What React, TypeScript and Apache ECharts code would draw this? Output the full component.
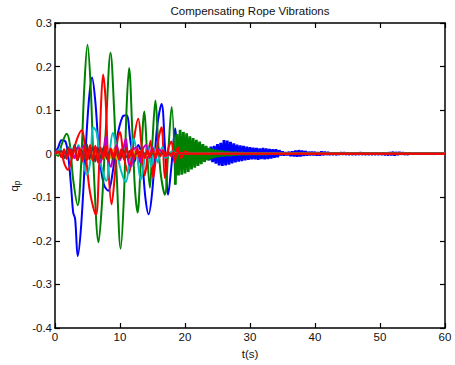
import React, { useEffect, useRef } from "react";
import * as echarts from "echarts";

const X_TICKS = [0, 10, 20, 30, 40, 50, 60];
const Y_TICKS = [-0.4, -0.3, -0.2, -0.1, 0, 0.1, 0.2, 0.3];
const TAIL_STEP = 0.25;

const blueMain: number[][] = [
  [0, 0], [0.5, 0.015], [1.0, 0.031], [1.6, 0.028], [2.0, 0.0], [2.5, -0.08], [2.8, -0.135], [3.1, -0.15],
  [3.5, -0.235], [4.0, -0.17], [4.6, -0.02], [5.2, 0.12], [5.7, 0.175], [6.2, 0.12], [6.8, 0.0], [7.5, -0.07],
  [8.2, -0.085], [8.9, -0.04], [9.6, 0.04], [10.4, 0.085], [11.0, 0.088], [11.6, 0.03], [12.2, -0.02],
  [12.8, 0.02], [13.3, 0.0], [13.9, -0.1], [14.4, -0.139], [15.0, -0.08], [15.7, 0.06], [16.4, 0.114],
  [16.9, 0.02], [17.4, -0.094], [17.9, -0.03], [18.5, 0.058], [19.0, -0.025], [19.5, 0.025],
];
const blueTailStart = 19.75;
const blueTail = [
  -0.02, 0.022, -0.018, 0.02, -0.016, 0.018, -0.015, 0.016, -0.014, 0.015, -0.012, 0.013,
  -0.012, 0.012, -0.013, 0.012, -0.015, 0.016, -0.019, 0.018, -0.023, 0.022, -0.027, 0.025,
  -0.028, 0.031, -0.027, 0.03, -0.025, 0.027, -0.022, 0.024, -0.02, 0.021, -0.018, 0.019,
  -0.017, 0.018, -0.015, 0.016, -0.014, 0.015, -0.013, 0.014, -0.013, 0.013, -0.014, 0.012,
  -0.012, 0.013, -0.013, 0.012, -0.012, 0.011, -0.011, 0.01, -0.009, 0.01, -0.008, 0.008,
  -0.004, 0.005, -0.004, 0.003, -0.003, 0.004, -0.005, 0.005, -0.006, 0.007, -0.007, 0.008,
  -0.006, 0.007, -0.005, 0.006, -0.004, 0.004, -0.003, 0.004, -0.003, 0.004, -0.004, 0.003,
  -0.004, 0.005, -0.003, 0.004, -0.002, 0.003, -0.002, 0.002, -0.002, 0.002, -0.002, 0.001,
  -0.001, 0.002, -0.001, 0.002, -0.001, 0.001, -0.001, 0.001, -0.001, 0.001, -0.001, 0.001,
  -0.001, 0.002, -0.001, 0.001, -0.001, 0.001, -0.001, 0.001, -0.001, 0.001, -0.001, 0.001,
  -0.001, 0.001, -0.001, 0.001, -0.002, 0.001, -0.003, 0.003, -0.003, 0.004, -0.004, 0.003,
  -0.002, 0.003, -0.001, 0.002, -0.001, 0.001, -0.001, 0.001, 0,
];

const greenMain: number[][] = [
  [0, 0], [0.5, -0.005], [1.0, 0.02], [1.8, 0.046], [2.3, 0.02], [2.8, -0.06], [3.5, -0.118], [4.0, -0.03],
  [4.5, 0.15], [5.0, 0.25], [5.5, 0.15], [6.0, -0.05], [6.7, -0.203], [7.2, -0.12], [7.8, 0.05], [8.55, 0.232],
  [9.1, 0.1], [9.5, -0.05], [10.1, -0.218], [10.6, -0.1], [11.0, 0.1], [11.4, 0.197], [11.9, 0.05],
  [12.3, -0.08], [12.7, -0.135], [13.2, -0.02], [13.75, 0.097], [14.1, 0.02], [14.6, -0.078], [15.0, 0.03],
  [15.45, 0.122], [15.9, 0.02], [16.3, -0.05], [16.9, -0.094], [17.4, 0.0], [17.95, 0.107], [18.5, -0.071],
];
const greenTailStart = 18.75;
const greenTail = [
  0.045, -0.05, 0.055, -0.048, 0.05, -0.045, 0.047, -0.042, 0.04, -0.036, 0.036, -0.032,
  0.032, -0.028, 0.028, -0.024, 0.022, -0.019, 0.018, -0.015, 0.013, -0.012, 0.011, -0.01,
  0.009, -0.008, 0.008, -0.007, 0.007, -0.006, 0.006, -0.005, 0.005, -0.005, 0.004, -0.004,
  0.004, -0.003, 0.003, -0.003, 0.003, -0.002, 0.002, -0.002, 0.002, -0.002, 0.002, -0.001,
  0.001, -0.001, 0.001, -0.001, 0.001, -0.001, 0.001, -0.001, 0,
];

const redMain: number[][] = [
  [0, 0], [0.5, 0.008], [1.0, 0.0], [1.5, -0.025], [2.0, -0.037], [2.6, -0.01], [3.3, 0.03], [4.1, 0.054],
  [4.7, 0.0], [5.4, -0.09], [6.3, -0.14], [6.7, -0.06], [7.05, 0.1], [7.4, 0.182], [7.8, 0.12], [8.2, -0.03],
  [8.7, -0.116], [9.2, -0.05], [9.6, 0.03], [10.0, 0.05], [10.5, 0.0], [11.3, -0.045], [12.0, 0.02],
  [12.8, 0.08], [13.3, 0.02], [13.8, -0.05], [14.3, 0.0], [14.7, 0.03], [15.1, -0.056], [15.6, 0.0],
  [16.0, 0.04], [16.4, 0.061], [16.9, -0.056], [17.4, 0.01], [17.9, 0.028], [18.4, -0.02], [18.9, 0.015],
  [19.4, -0.01], [20, 0.005], [21, 0], [60, 0],
];

const cyanMain: number[][] = [
  [0, 0], [0.8, 0.01], [1.5, -0.01], [2.2, 0.015], [3.0, -0.01], [3.6, 0.02], [4.2, -0.01], [4.9, -0.048],
  [5.4, -0.02], [5.9, 0.06], [6.4, 0.05], [7.0, -0.02], [7.9, -0.062], [8.4, 0.0], [8.9, 0.048], [9.4, 0.02],
  [10.0, -0.03], [10.9, -0.065], [11.5, -0.01], [12.1, 0.035], [12.6, 0.0], [13.2, -0.06], [13.7, -0.02],
  [14.2, 0.02], [14.8, -0.03], [15.3, 0.015], [15.8, -0.02], [16.5, 0.015], [17.0, -0.01], [18, 0.005],
  [19, 0], [60, 0],
];

const magentaMain: number[][] = [
  [0, 0], [1, 0.005], [2, -0.005], [2.5, 0.01], [3, -0.01], [3.5, 0.015], [4, 0.005], [4.5, 0.02],
  [5, -0.01], [5.5, 0.01], [6, -0.015], [6.5, 0.015], [7, -0.02], [7.5, 0.01], [7.8, 0.04], [8.2, -0.01],
  [8.6, -0.03], [9.0, 0.0], [9.5, 0.02], [10.0, -0.015], [10.5, 0.01], [10.9, 0.035], [11.3, -0.02],
  [11.7, -0.03], [12.1, 0.01], [12.6, 0.015], [13.1, -0.02], [13.5, 0.01], [14, 0.02], [14.5, -0.01],
  [15, 0.015], [15.5, -0.01], [16, 0.01], [17, -0.005], [18, 0], [60, 0],
];

const oliveMain: number[][] = [
  [0, 0], [2, 0.005], [2.5, -0.008], [3, 0.01], [3.5, -0.005], [4, 0.012], [4.5, -0.01], [5, 0.008],
  [5.5, -0.012], [6, 0.01], [6.5, -0.008], [7, 0.012], [7.5, -0.01], [8, 0.008], [8.5, -0.01], [9, 0.01],
  [9.5, -0.012], [10, 0.008], [10.5, -0.006], [11, 0.008], [11.5, -0.008], [12, 0.006], [12.5, -0.005],
  [13, 0.006], [14, -0.004], [15, 0.003], [16, 0], [60, 0],
];

const grayMain: number[][] = [
  [0, 0], [1, 0.005], [1.5, -0.01], [2, 0.015], [2.5, -0.005], [3, 0.02], [3.5, -0.015], [4, 0.01],
  [4.5, -0.012], [4.9, 0.022], [5.3, -0.012], [5.8, 0.015], [6.2, -0.018], [6.6, 0.012], [7, -0.01],
  [7.5, 0.015], [8, -0.012], [8.5, 0.01], [9, -0.015], [9.5, 0.012], [10, -0.01], [10.5, 0.008],
  [11, -0.008], [11.5, 0.006], [12, -0.006], [13, 0.004], [14, 0], [60, 0],
];

const red2Main: number[][] = [
  [0, 0], [0.5, 0.005], [1.0, -0.008], [1.4, 0.01], [1.8, -0.012], [2.2, 0.012], [2.6, -0.01], [3.0, 0.015],
  [3.4, -0.015], [3.8, 0.012], [4.2, -0.018], [4.6, 0.017], [5.0, -0.014], [5.4, 0.02], [5.8, -0.016],
  [6.2, 0.018], [6.6, -0.02], [7.0, 0.015], [7.4, -0.012], [7.8, 0.018], [8.2, -0.015], [8.6, 0.012],
  [9.0, -0.01], [9.4, 0.014], [9.8, -0.012], [10.2, 0.01], [10.6, -0.012], [11.0, 0.012], [11.4, -0.01],
  [11.8, 0.01], [12.2, -0.012], [12.6, 0.01], [13.0, -0.008], [13.4, 0.01], [13.8, -0.01], [14.2, 0.008],
  [14.6, -0.008], [15.0, 0.01], [15.4, -0.01], [15.8, 0.008], [16.2, -0.006], [16.6, 0.008], [17.0, -0.006],
  [17.4, 0.005], [17.8, -0.005], [18.2, 0.004], [18.6, -0.003], [19.0, 0.002], [20, 0], [60, 0],
];

function tailData(main: number[][], start: number, tail: number[]): number[][] {
  return [main[main.length - 1]]
    .concat(tail.map((v, i) => [start + i * TAIL_STEP, v]))
    .concat([[60, 0]]);
}

const FONT = "'Liberation Sans', Arial, Helvetica, sans-serif";

export default function App() {
  const ref = useRef<HTMLDivElement>(null);
  useEffect(() => {
    if (!ref.current) return;
    const chart = echarts.init(ref.current, null, { renderer: "svg" });
    const mk = (name: string, color: string, data: number[][], smooth: number | boolean, width: number) => ({
      name,
      type: "line",
      data,
      showSymbol: false,
      symbol: "none",
      smooth,
      lineStyle: { color, width, join: "bevel" },
      itemStyle: { color },
      xAxisIndex: 0,
      yAxisIndex: 0,
      z: 2,
    });
    const axisCommon = {
      axisLine: { show: true, onZero: false, lineStyle: { color: "#000", width: 1.5 } },
      axisTick: { show: true, inside: true, length: 5, lineStyle: { color: "#000", width: 1.2 } },
      splitLine: { show: false },
    };
    chart.setOption({
      animation: false,
      backgroundColor: "#fff",
      grid: { left: 55, right: 10, top: 23, bottom: 33 },
      xAxis: [
        {
          type: "value", position: "bottom", min: X_TICKS[0], max: X_TICKS[X_TICKS.length - 1], interval: 10,
          ...axisCommon,
          axisLabel: { show: true, margin: 3, fontSize: 11.5, fontFamily: FONT, color: "#111" },
          name: "t(s)", nameLocation: "middle", nameGap: 20,
          nameTextStyle: { fontSize: 11.5, fontFamily: FONT, color: "#111" },
        },
        {
          type: "value", position: "top", min: X_TICKS[0], max: X_TICKS[X_TICKS.length - 1], interval: 10,
          ...axisCommon,
          axisLabel: { show: false },
        },
      ],
      yAxis: [
        {
          type: "value", position: "left", min: Y_TICKS[0], max: Y_TICKS[Y_TICKS.length - 1], interval: 0.1,
          ...axisCommon,
          axisLabel: { show: true, margin: 3, fontSize: 11.5, fontFamily: FONT, color: "#111" },
        },
        {
          type: "value", position: "right", min: Y_TICKS[0], max: Y_TICKS[Y_TICKS.length - 1], interval: 0.1,
          ...axisCommon,
          axisLabel: { show: false },
        },
      ],
      graphic: [
        {
          type: "text", x: 250, y: 10.5,
          style: {
            text: "Compensating Rope Vibrations", align: "center", verticalAlign: "middle",
            fontSize: 11.5, fontFamily: FONT, fill: "#111",
          },
        },
        {
          type: "text", x: 14, y: 186, rotation: Math.PI / 2,
          style: {
            text: "{q|q}{p|p}", align: "center", verticalAlign: "middle",
            fontFamily: FONT, fill: "#111",
            rich: {
              q: { fontSize: 11.5, fontFamily: FONT, fill: "#111" },
              p: { fontSize: 8.5, fontFamily: FONT, fill: "#111", padding: [6, 0, 0, 0] },
            },
          },
        },
      ],
      series: [
        mk("b", "#0000ff", blueMain, 0.35, 2),
        mk("bt", "#0000ff", tailData(blueMain, blueTailStart, blueTail), false, 2.8),
        mk("g", "#008000", greenMain, 0.35, 2),
        mk("gt", "#008000", tailData(greenMain, greenTailStart, greenTail), false, 2.8),
        mk("r", "#ff0000", redMain, 0.35, 2),
        mk("c", "#00bfbf", cyanMain, 0.35, 2),
        mk("m", "#bf00bf", magentaMain, 0.35, 2),
        mk("y", "#bfbf00", oliveMain, 0.35, 2),
        mk("k", "#404040", grayMain, 0.35, 2),
        mk("r2", "#ff0000", red2Main, 0.35, 2),
      ],
    });
    return () => chart.dispose();
  }, []);
  return (
    <div
      ref={ref}
      style={{ position: "fixed", left: 0, top: 0, width: 455, height: 365, background: "#fff" }}
    />
  );
}
